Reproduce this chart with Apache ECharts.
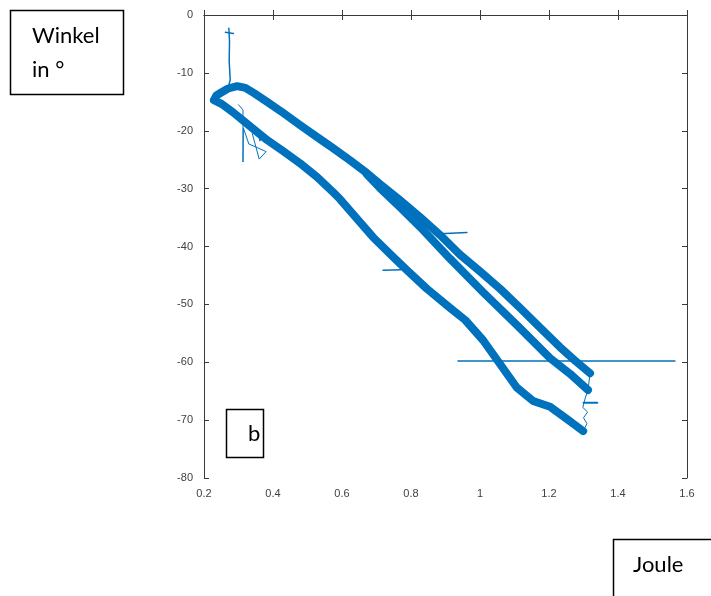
<!DOCTYPE html>
<html>
<head>
<meta charset="utf-8">
<script src="https://cdn.jsdelivr.net/npm/echarts@6/dist/echarts.min.js"></script>
<style>
html,body{margin:0;padding:0;background:#fff;}
#chart{width:711px;height:596px;}
</style>
</head>
<body>
<div id="chart"></div>
<script>
// Axis ticks
var xTicks = [0.2, 0.4, 0.6, 0.8, 1, 1.2, 1.4, 1.6];
var yTicks = [0, -10, -20, -30, -40, -50, -60, -70, -80];

// Data: [Joule, Winkel in °]
var spike = [[0.272,-2.3],[0.274,-4.5],[0.273,-8],[0.276,-11.2],[0.270,-12.6],[0.245,-13.8],[0.229,-14.7]];
var spikeCross = [[0.262,-3.0],[0.285,-3.2]];
var upperBand = [[0.229,-14.7],[0.236,-13.9],[0.250,-13.4],[0.270,-12.7],[0.296,-12.3],[0.320,-12.6],[0.345,-13.5],[0.383,-15.0],[0.429,-16.9],[0.478,-19.0],[0.528,-21.1],[0.574,-23.0],[0.623,-25.1],[0.672,-27.3],[0.710,-29.2],[0.768,-32.0],[0.826,-34.9],[0.884,-38.0],[0.942,-41.4],[1.000,-44.3],[1.058,-47.3],[1.116,-50.6],[1.174,-54.0],[1.232,-57.4],[1.275,-59.7],[1.319,-61.9]];
var innerBand = [[0.672,-27.5],[0.710,-29.9],[0.768,-33.2],[0.826,-36.6],[0.913,-42.1],[1.009,-47.9],[1.107,-53.6],[1.203,-59.3],[1.261,-62.0],[1.313,-64.8]];
var lowerBand = [[0.229,-14.7],[0.252,-15.4],[0.284,-16.8],[0.333,-19.2],[0.383,-21.6],[0.429,-23.5],[0.478,-25.6],[0.528,-28.0],[0.574,-30.6],[0.594,-31.8],[0.652,-35.8],[0.690,-38.4],[0.748,-41.8],[0.788,-44.1],[0.846,-47.3],[0.913,-50.6],[0.957,-52.7],[1.009,-56.2],[1.058,-60.3],[1.107,-64.4],[1.154,-66.7],[1.203,-67.7],[1.252,-69.8],[1.299,-71.9]];
var rightZigzag = [[1.319,-61.9],[1.313,-64.8],[1.305,-66.2],[1.298,-67.8],[1.312,-68.6],[1.300,-69.6],[1.310,-70.6],[1.299,-71.9]];
var leftNoise = [[0.300,-15.5],[0.313,-16.4],[0.313,-25.4],[0.314,-19.5],[0.330,-22.3],[0.350,-22.8],[0.380,-23.6],[0.360,-24.9],[0.340,-20.5],[0.355,-19.6],[0.362,-21.8],[0.372,-20.4],[0.378,-22.0]];
var strayLong = [[0.936,-59.8],[1.565,-59.8]];
var strayMid = [[0.884,-37.8],[0.962,-37.6]];
var strayLow = [[0.719,-44.1],[0.770,-44.0]];
var strayRight = [[1.300,-67.0],[1.340,-67.0]];

var blue = '#0072BD';
function band(data, w){
  return {type:'line', data:data, showSymbol:false, symbol:'none', animation:false,
    lineStyle:{color:blue, width:w, join:'round', cap:'round'}, z:3};
}

var chart = echarts.init(document.getElementById('chart'), null, {renderer:'canvas'});
var axisColor = '#3a3a3a';
var labelStyle = {color:'#404040', fontSize:11, fontFamily:'Liberation Sans, Arial, sans-serif'};
chart.setOption({
  animation:false,
  backgroundColor:'#fff',
  grid:{left:204, top:15, right:24, bottom:118, containLabel:false},
  xAxis:[
    {type:'value', min:0.2, max:1.6, interval:0.2, position:'bottom',
     axisLine:{show:true, lineStyle:{color:axisColor, width:1}},
     axisTick:{show:true, inside:true, length:5, lineStyle:{color:axisColor}},
     axisLabel:Object.assign({margin:10, formatter:function(v){return String(+v.toFixed(1));}}, labelStyle),
     splitLine:{show:false}},
    {type:'value', min:0.2, max:1.6, interval:0.2, position:'top',
     axisLine:{show:true, lineStyle:{color:axisColor, width:1}},
     axisTick:{show:true, inside:true, length:5, lineStyle:{color:axisColor}},
     axisLabel:{show:false}, splitLine:{show:false}}
  ],
  yAxis:[
    {type:'value', min:-80, max:0, interval:10, position:'left',
     axisLine:{show:true, lineStyle:{color:axisColor, width:1}},
     axisTick:{show:true, inside:true, length:5, lineStyle:{color:axisColor}},
     axisLabel:Object.assign({margin:11}, labelStyle),
     splitLine:{show:false}},
    {type:'value', min:-80, max:0, interval:10, position:'right',
     axisLine:{show:true, lineStyle:{color:axisColor, width:1}},
     axisTick:{show:true, inside:true, length:5, lineStyle:{color:axisColor}},
     axisLabel:{show:false}, splitLine:{show:false}}
  ],
  series:[
    band(spike, 1.5),
    band(spikeCross, 1.5),
    band(leftNoise, 1),
    band(upperBand, 8),
    band(innerBand, 8),
    band(lowerBand, 8),
    band(rightZigzag, 1),
    band(strayLong, 1.5),
    band(strayMid, 1.5),
    band(strayLow, 1.5),
    band(strayRight, 2)
  ],
  graphic:[
    {type:'rect', shape:{x:10.5, y:10.5, width:113, height:84}, style:{fill:'#fff', stroke:'#000', lineWidth:1.5}},
    {type:'text', left:32, top:25, style:{text:'Winkel', font:'22px Lato, "Open Sans", sans-serif', fill:'#000'}},
    {type:'text', left:32, top:59, style:{text:'in °', font:'22px Lato, "Open Sans", sans-serif', fill:'#000'}},
    {type:'rect', shape:{x:226.5, y:409.5, width:37, height:48}, style:{fill:'#fff', stroke:'#000', lineWidth:1.5}, z:10},
    {type:'text', left:248, top:423, style:{text:'b', font:'22px Lato, "Open Sans", sans-serif', fill:'#000'}, z:11},
    {type:'rect', shape:{x:613.5, y:539.5, width:110, height:70}, style:{fill:'#fff', stroke:'#000', lineWidth:1.5}},
    {type:'text', left:633, top:554, style:{text:'Joule', font:'22px Lato, "Open Sans", sans-serif', fill:'#000'}}
  ]
});
</script>
</body>
</html>
